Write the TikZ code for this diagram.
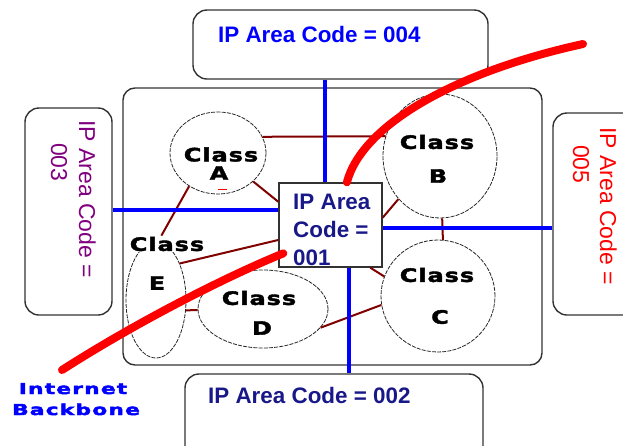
\documentclass[tikz,border=0pt]{standalone}
\usepackage{fontspec}
\setmainfont{Liberation Sans}
\newfontfamily\heavyfont{DejaVu Sans Bold}[FakeStretch=1.3,LetterSpace=5,FakeBold=2]
\newfontfamily\widefont{DejaVu Sans Bold}[FakeStretch=1.45,LetterSpace=8,FakeBold=3]
\usetikzlibrary{shapes.geometric}
\definecolor{areanavy}{RGB}{24,24,136}
\definecolor{linkred}{RGB}{128,0,0}
\definecolor{areapurple}{RGB}{128,0,128}
\definecolor{boxgray}{RGB}{50,50,50}
\begin{document}
\begin{tikzpicture}[x=1pt,y=-1pt,
  areabox/.style={draw=boxgray, line width=1.4pt, rounded corners=14pt, inner sep=0pt},
  classring/.style={ellipse, draw=black!85, line width=0.8pt, dash pattern=on 4pt off 1.2pt, inner sep=0pt},
  classtext/.style={font=\heavyfont\fontsize{18.5}{20}\selectfont, inner sep=0pt},
  wire/.style={linkred, line width=2pt},
  net/.style={blue, line width=4.5pt},
  backbone/.style={red, line width=8pt, line cap=round},
  areatext/.style={font=\bfseries\fontsize{22.4}{26}\selectfont, inner sep=0pt, anchor=base west},
  sidetext/.style={font=\fontsize{23}{26}\selectfont, inner sep=0pt, anchor=base west, rotate=-90},
  bbtext/.style={font=\widefont\fontsize{15}{16}\selectfont, text=blue, anchor=base, inner sep=0pt}
]
\useasboundingbox (0,0) rectangle (623,445);
\clip (0,0) rectangle (623,445);

% boxes
\node[areabox, minimum width=295pt, minimum height=69pt] (top) at (340.5,44.5) {};
\node[areabox, rounded corners=12pt, minimum width=419pt, minimum height=277pt] (main) at (332.5,226.5) {};
\node[areabox, minimum width=87pt, minimum height=207pt] (left) at (68.5,211.5) {};
\node[areabox, minimum width=97pt, minimum height=202pt] (right) at (601.5,214) {};
\node[areabox, minimum width=298pt, minimum height=86pt] (bottom) at (334,417) {};
\node[draw=boxgray, line width=1.4pt, inner sep=0pt, minimum width=103pt, minimum height=84pt] (ctr) at (330.5,225) {};

% class rings
\node[classring, minimum width=96pt, minimum height=82pt] (A) at (218,153) {};
\node[classring, minimum width=114pt, minimum height=124pt] (B) at (440,156) {};
\node[classring, minimum width=114pt, minimum height=112pt] (C) at (438,296) {};
\node[classring, minimum width=130pt, minimum height=78pt] (D) at (263,309) {};
\node[classring, minimum width=60pt, minimum height=116pt] (E) at (156,300) {};

% class labels
\node[classtext] (Acls) at (221,154.5) {Class};
\node[classtext] (Alet) at (219,173) {A};
\node[classtext] (Bcls) at (437,142) {Class};
\node[classtext] (Blet) at (438,176) {B};
\node[classtext] (Ccls) at (437,275) {Class};
\node[classtext] (Clet) at (440,317) {C};
\node[classtext] (Dcls) at (259,298) {Class};
\node[classtext] (Dlet) at (262,328) {D};
\node[classtext, fill=white, inner sep=1pt] (Ecls) at (167,244) {Class};
\node[classtext] (Elet) at (157,283) {E};

% dark red links
\draw[wire] (A.20) -- (B.160);
\draw[wire] (A.-39) -- (ctr.156);
\draw[wire] (A.229) -- (Ecls.124);
\draw[wire] (E.57) -- (ctr.196);
\draw[wire] (E.-19) -- (D.181);
\draw[wire] (D.-18) -- (C.189);
\draw[wire] (ctr.-47) -- (C.160);
\draw[wire] (ctr.8) -- (B.226);
\draw[wire] (B.-88) -- (C.85);
\draw[red, line width=1.5pt] ([yshift=5pt]A.south) -- ++(9,0);

% blue area links
\draw[net] (325,0 |- top.south) -- (325,0 |- ctr.north);
\draw[net] (left.east |- 0,210) -- (ctr.west |- 0,210);
\draw[net] (ctr.east |- 0,228) -- (right.west |- 0,228);
\draw[net] (349,0 |- ctr.south) -- (349,0 |- bottom.north);

% texts
\node[areatext, text=blue] (t004) at (218,42) {IP Area Code = 004};
\node[areatext, text=areanavy] (t002) at (208,403) {IP Area Code = 002};
\node[areatext, text=areanavy] (t001a) at (293,209) {IP Area};
\node[areatext, text=areanavy] (t001b) at (293,237) {Code =};
\node[areatext, text=areanavy] (t001c) at (293,265) {001};
\node[sidetext, text=areapurple] (t003a) at (79,120) {IP Area Code =};
\node[sidetext, text=areapurple] (t003b) at (51,143) {003};
\node[sidetext, text=red] (t005a) at (600,127) {IP Area Code =};
\node[sidetext, text=red] (t005b) at (573,145) {005};

% internet backbone
\coordinate (bbNE) at (583,44);
\coordinate (bbSW) at (62,370);
\draw[backbone] (ctr.69) .. controls (362,125) and (455,72) .. (bbNE);
\draw[backbone] ([xshift=5pt,yshift=3pt]ctr.211) .. controls (230,275) and (140,320) .. (bbSW);
\node[bbtext] (bb1) at (73,394) {Internet};
\node[bbtext] (bb2) at (76,415) {Backbone};
\end{tikzpicture}
\end{document}
